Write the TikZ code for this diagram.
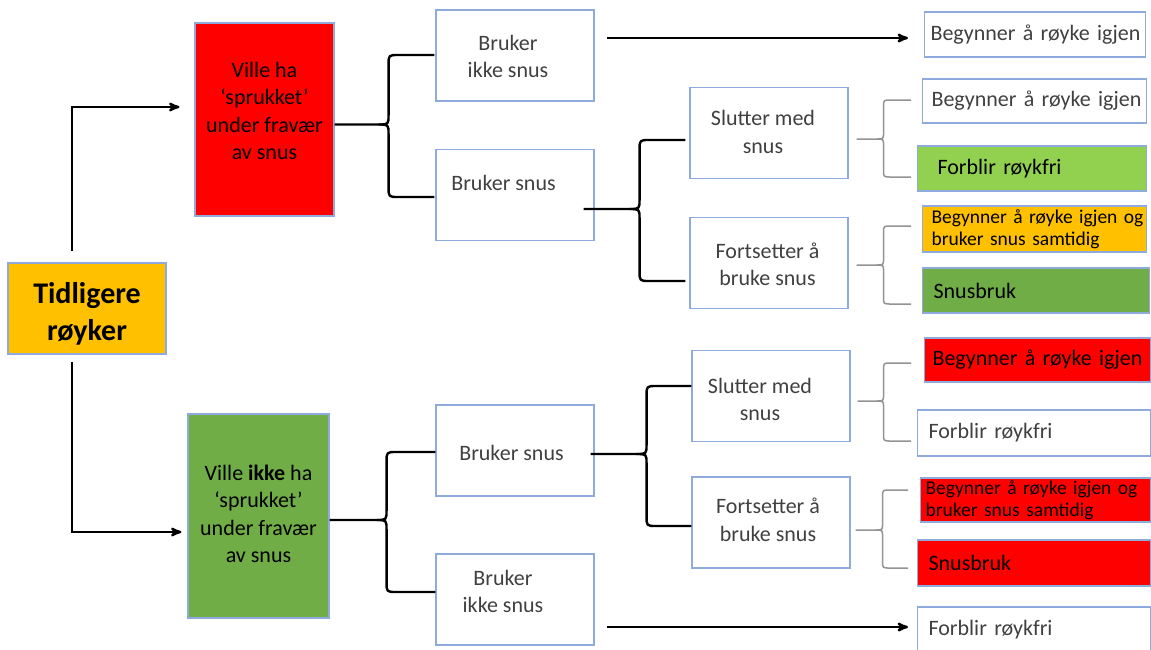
\documentclass[tikz,border=0pt]{standalone}
\usepackage{fontspec}
\setmainfont{Carlito}
\usepackage{xcolor}
\usetikzlibrary{positioning,calc,arrows}

\definecolor{edgeblue}{HTML}{8FAADC}
\definecolor{amber}{HTML}{FFC000}
\definecolor{leafgreen}{HTML}{92D050}
\definecolor{grassgreen}{HTML}{70AD47}
\definecolor{txtgray}{HTML}{404040}

\tikzset{
  basic/.style   = {draw=edgeblue, line width=1.1pt, rectangle, inner sep=0pt},
  root/.style    = {basic, fill=amber, minimum width=158pt, minimum height=91pt},
  choice/.style  = {basic, minimum width=140pt, minimum height=200pt},
  branch/.style  = {basic, minimum width=158pt, minimum height=91pt},
  outcome/.style = {basic, anchor=west, align=left, minimum height=45pt, text=txtgray},
  small/.style   = {font=\fontsize{19.5}{22}\selectfont},
  lbl/.style     = {align=center, text=txtgray},
  post/.style    = {->, >=stealth', line width=2.4pt},
  fork/.style    = {line width=2.4pt, line join=round},
  twig/.style    = {line width=1.5pt, draw=gray!85, line join=round}
}

% curly split: style, start, reach, radius, upper end, lower end
\newcommand{\curly}[6]{%
  \path (#2) coordinate (cs) ++(#3,0) coordinate (cv);
  \path (#5) coordinate (ct) (#6) coordinate (cb);
  \draw[#1] (cs) -- ($(cv)+(-#4,0)$) .. controls (cv) .. ($(cv)+(0,-#4)$)
    -- ($(cv |- ct)+(0,#4)$) .. controls (cv |- ct) .. ($(cv |- ct)+(#4,0)$) -- (ct);
  \draw[#1] ($(cv)+(-#4,0)$) .. controls (cv) .. ($(cv)+(0,#4)$)
    -- ($(cv |- cb)+(0,-#4)$) .. controls (cv |- cb) .. ($(cv |- cb)+(#4,0)$) -- (cb);
}

\begin{document}
\begin{tikzpicture}[x=1pt, y=-1pt, font=\fontsize{22}{27.5}\selectfont]
  \useasboundingbox (0,0) rectangle (1151,649);

  % start
  \node[root, label={[lbl, text=black, yshift=-5pt, font=\fontsize{30}{37}\selectfont\bfseries]center:Tidligere\\røyker}]
        (smoker) at (87,308.5) {};

  % would / would not have relapsed
  \node[choice, fill=red, minimum width=139pt, minimum height=193pt,
        label={[lbl, text=black, yshift=8.5pt]center:Ville ha\\‘sprukket’\\under fravær\\av snus}]
        (crack) at (264.5,119.5) {};
  \node[choice, fill=grassgreen, minimum width=141pt, minimum height=204pt,
        label={[lbl, text=black, yshift=2pt]center:Ville \textbf{ikke} ha\\‘sprukket’\\under fravær\\av snus}]
        (nocrack) at (258.5,516) {};

  % snus or not
  \node[branch, label={[lbl, xshift=-7pt, yshift=-1pt]center:Bruker\\ikke snus}] (nosnus1) at (515,55.5) {};
  \node[branch, label={[lbl, xshift=-11.5pt, yshift=12pt]center:Bruker snus}] (snus1) at (515,195) {};
  \node[branch, label={[lbl, xshift=-3.5pt, yshift=-2.5pt]center:Bruker snus}] (snus2) at (515,450.5) {};
  \node[branch, label={[lbl, xshift=-12pt, yshift=8pt]center:Bruker\\ikke snus}] (nosnus2) at (515,599.5) {};

  \node[branch, label={[lbl, xshift=-6pt, yshift=1pt]center:Slutter med\\snus}] (quit1) at (769,133) {};
  \node[branch, label={[lbl, xshift=-1.5pt, yshift=-1.5pt]center:Fortsetter å\\bruke snus}] (keep1) at (769,263) {};
  \node[branch, label={[lbl, xshift=-11pt, yshift=-3.5pt]center:Slutter med\\snus}] (quit2) at (771,396) {};
  \node[branch, label={[lbl, xshift=-3pt, yshift=2.5pt]center:Fortsetter å\\bruke snus}] (keep2) at (771,522.5) {};

  % outcomes, upper half
  \node[outcome, minimum width=221pt, inner xsep=6pt, text width=209pt] (a1) at (924,34.5) {\mbox{Begynner å røyke igjen}};
  \node[outcome, minimum width=224pt, minimum height=44pt, inner xsep=9pt, text width=206pt] (a2) at (922,101) {\mbox{Begynner å røyke igjen}};
  \node[outcome, fill=leafgreen, text=black, minimum width=229pt, inner xsep=20pt, text width=189pt] (a3) at (917,168.5) {Forblir røykfri};
  \node[outcome, small, fill=amber, text=black, minimum width=224pt, minimum height=46pt, inner xsep=9pt, text width=206pt]
        (a4) at (922,229) {\mbox{Begynner å røyke igjen og}\\\mbox{bruker snus samtidig}};
  \node[outcome, fill=grassgreen, text=black, minimum width=227pt, inner xsep=11pt, text width=205pt] (a5) at (922,290.5) {Snusbruk};

  % outcomes, lower half
  \node[outcome, fill=red, text=black, minimum width=226pt, minimum height=44pt, inner xsep=8pt, text width=210pt] (b1) at (924,360) {\mbox{Begynner å røyke igjen}};
  \node[outcome, minimum width=233pt, minimum height=46pt, inner xsep=11pt, text width=211pt] (b2) at (917,433) {Forblir røykfri};
  \node[outcome, small, fill=red, text=black, minimum width=230pt, minimum height=44pt, inner xsep=5pt, text width=220pt]
        (b3) at (920,500) {\mbox{Begynner å røyke igjen og}\\\mbox{bruker snus samtidig}};
  \node[outcome, fill=red, text=black, minimum width=233pt, minimum height=46pt, inner xsep=11pt, text width=211pt] (b4) at (917,563) {Snusbruk};
  \node[outcome, minimum width=233pt, minimum height=46pt, inner xsep=11pt, text width=211pt] (b5) at (917,630) {Forblir røykfri};

  % arrows
  \draw[post] ($(smoker.north)+(-15,-11)$) |- ($(crack.west)+(-15,-12.5)$);
  \draw[post] ($(smoker.south)+(-15,7)$) |- ($(nocrack.west)+(-6,16)$);
  \draw[post] ($(nosnus1.east)+(12,-17.5)$) -- ($(a1.west)+(-16,3.5)$);
  \draw[post] ($(nosnus2.east)+(12,27.5)$) -- ($(b5.west)+(-9,-3)$);

  % braces
  \curly{fork}{$(crack.east)+(0,5)$}{54}{10}{$(nosnus1.west)+(-1,-0.5)$}{$(snus1.west)+(-1,2)$}
  \curly{fork}{$(snus1.east)+(-11,14)$}{56}{10}{$(quit1.west)+(-4,7)$}{$(keep1.west)+(-4,18)$}
  \curly{fork}{$(nocrack.east)+(0,4)$}{57}{10}{$(snus2.west)+(0,1.5)$}{$(nosnus2.west)+(0,-7.5)$}
  \curly{fork}{$(snus2.east)+(-4,3.5)$}{56}{10}{$(quit2.west)+(0,-10)$}{$(keep2.west)+(0,3.5)$}
  \curly{twig}{$(quit1.east)+(8,6)$}{27}{7}{$(a2.west)+(-11,-1)$}{$(a3.west)+(-6,8.5)$}
  \curly{twig}{$(keep1.east)+(8,2)$}{27}{7}{$(a4.west)+(-11,-3)$}{$(a5.west)+(-11,13.5)$}
  \curly{twig}{$(quit2.east)+(7,5)$}{26}{7}{$(b1.west)+(-13,3)$}{$(b2.west)+(-6,8)$}
  \curly{twig}{$(keep2.east)+(5,7.5)$}{27}{7}{$(b3.west)+(-12,-10)$}{$(b4.west)+(-9,5)$}
\end{tikzpicture}
\end{document}
